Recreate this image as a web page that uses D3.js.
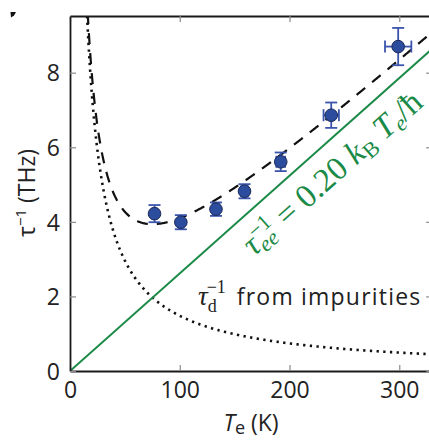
<!DOCTYPE html>
<html>
<head>
<meta charset="utf-8">
<script src="https://cdn.jsdelivr.net/npm/d3@7"></script>
<style>
  html, body { margin: 0; padding: 0; background: #fff; }
  svg { display: block; }
  text { font-family: "Open Sans", "DejaVu Sans", sans-serif; fill: #222; }
  .math { font-family: "Liberation Serif", "DejaVu Serif", serif; }
</style>
</head>
<body>
<svg id="chart" width="429" height="440"></svg>
<script>
// Measured scattering rates (THz) versus electron temperature (K)
const temps    = [77, 101, 133, 159, 192, 238, 299];
const rates    = [4.22, 3.99, 4.34, 4.82, 5.61, 6.86, 8.70];
const rateErr  = [0.23, 0.19, 0.18, 0.19, 0.25, 0.34, 0.50];
const tempErr  = [2, 2, 3, 3, 4, 7, 12];

// Model parameters
const eeCoeff = 0.20;            // tau_ee^-1 = 0.20 kB Te / hbar
const kBoverHbar = 0.130920;     // kB/hbar in THz per K
const impurityC = 148;           // tau_d^-1 = C / Te  (THz K)

const xTicks = [0, 100, 200, 300];
const yTicks = [0, 2, 4, 6, 8];
const xDomain = [0, 330];
const yDomain = [0, 9.52];

const svg = d3.select("#chart");
const x = d3.scaleLinear().domain(xDomain).range([70, 432.2]);
const y = d3.scaleLinear().domain(yDomain).range([371, 16]);

const green = "#1b8a47";
const ee = T => eeCoeff * kBoverHbar * T;
const imp = T => impurityC / T;
const total = T => ee(T) + imp(T);

svg.append("defs").append("clipPath").attr("id", "plotclip")
  .append("rect").attr("x", x(0)).attr("y", y(yDomain[1]))
  .attr("width", x(xDomain[1]) - x(0)).attr("height", y(0) - y(yDomain[1]));

const plot = svg.append("g").attr("clip-path", "url(#plotclip)");

// Axes: inward grey ticks on all four sides
const tickLen = 6;
const axB = svg.append("g").attr("transform", `translate(0,${y(0)})`)
  .call(d3.axisBottom(x).tickValues(xTicks).tickSizeInner(-tickLen).tickSizeOuter(0).tickPadding(10));
const axT = svg.append("g").attr("transform", `translate(0,${y(yDomain[1])})`)
  .call(d3.axisTop(x).tickValues(xTicks).tickSizeInner(-tickLen).tickSizeOuter(0).tickFormat(""));
const axL = svg.append("g").attr("transform", `translate(${x(0)},0)`)
  .call(d3.axisLeft(y).tickValues(yTicks).tickSizeInner(-tickLen).tickSizeOuter(0).tickPadding(10));
const axR = svg.append("g").attr("transform", `translate(${x(xDomain[1])},0)`)
  .call(d3.axisRight(y).tickValues(yTicks).tickSizeInner(-tickLen).tickSizeOuter(0).tickFormat(""));

[axB, axT, axL, axR].forEach(a => {
  a.select(".domain").attr("stroke", "#1a1a1a").attr("stroke-width", 1.8);
  a.selectAll(".tick line").attr("stroke", "#8a8a8a").attr("stroke-width", 1.2);
  a.selectAll(".tick text").style("font-size", "23px").attr("fill", "#222")
    .style("font-family", '"Open Sans", sans-serif');
});
axL.selectAll(".tick text").attr("dy", "0.36em");
axB.selectAll(".tick text").attr("dy", "0.72em");

// Curves
const Tfine = d3.range(8, 331, 0.5);
const line = d3.line().x(d => x(d[0])).y(d => y(d[1]));

plot.append("path")
  .attr("d", line(Tfine.map(T => [T, imp(T)])))
  .attr("fill", "none").attr("stroke", "#111").attr("stroke-width", 2.6)
  .attr("stroke-dasharray", "2.3,4.4");

plot.append("path")
  .attr("d", line([[0, ee(0)], [xDomain[1], ee(xDomain[1])]]))
  .attr("fill", "none").attr("stroke", green).attr("stroke-width", 2);

plot.append("path")
  .attr("d", line(Tfine.map(T => [T, total(T)])))
  .attr("fill", "none").attr("stroke", "#111").attr("stroke-width", 2.2)
  .attr("stroke-dasharray", "11,9");

// Data with error bars
const errColor = "#3a55ab";
const cap = 6;
const pts = svg.append("g");
temps.forEach((T, i) => {
  const cx = x(T), cy = y(rates[i]);
  const g = pts.append("g").attr("stroke", errColor).attr("stroke-width", 1.8);
  const yTop = y(rates[i] + rateErr[i]), yBot = y(rates[i] - rateErr[i]);
  g.append("line").attr("x1", cx).attr("x2", cx).attr("y1", yTop).attr("y2", yBot);
  g.append("line").attr("x1", cx - cap).attr("x2", cx + cap).attr("y1", yTop).attr("y2", yTop);
  g.append("line").attr("x1", cx - cap).attr("x2", cx + cap).attr("y1", yBot).attr("y2", yBot);
  const xL = x(T - tempErr[i]), xR = x(T + tempErr[i]);
  g.append("line").attr("x1", xL).attr("x2", xR).attr("y1", cy).attr("y2", cy);
  g.append("line").attr("x1", xL).attr("x2", xL).attr("y1", cy - cap).attr("y2", cy + cap);
  g.append("line").attr("x1", xR).attr("x2", xR).attr("y1", cy - cap).attr("y2", cy + cap);
  pts.append("circle").attr("cx", cx).attr("cy", cy).attr("r", 6.3)
    .attr("fill", "#2c4c9e").attr("stroke", "#1b2a58").attr("stroke-width", 1);
});

// Electron-electron label along the green line
const angle = Math.atan2(y(ee(xDomain[1])) - y(0), x(xDomain[1]) - x(0)) * 180 / Math.PI;
const anchorT = 223;
const big = 33, small = 22;
const eeLabel = svg.append("g")
  .attr("transform", `translate(${x(anchorT)},${y(ee(anchorT))}) rotate(${angle})`)
  .append("text").attr("class", "math").attr("x", 0).attr("y", 37)
  .attr("text-anchor", "middle").style("font-size", big + "px").style("fill", green);
eeLabel.append("tspan").style("font-style", "italic").text("τ");
eeLabel.append("tspan").style("font-style", "italic").style("font-size", small + "px").attr("dy", 5).text("ee");
eeLabel.append("tspan").style("font-size", small + "px").attr("dx", -19).attr("dy", -17).text("−1");
eeLabel.append("tspan").attr("dy", 12).text(" = 0.20 ");
eeLabel.append("tspan").style("font-style", "italic").text("k");
eeLabel.append("tspan").style("font-size", small + "px").attr("dy", 5).text("B");
eeLabel.append("tspan").style("font-style", "italic").attr("dy", -5).text(" T");
eeLabel.append("tspan").style("font-style", "italic").style("font-size", small + "px").attr("dy", 5).text("e");
eeLabel.append("tspan").attr("dy", -5).text("/ħ");

// Impurity label
const impLabel = svg.append("text").attr("x", 198).attr("y", 305).style("font-size", "23px")
  .style("letter-spacing", "1.2px");
impLabel.append("tspan").style("font-family", '"Liberation Serif", serif')
  .style("font-style", "italic").style("font-size", "27px").style("letter-spacing", "0px").text("τ");
impLabel.append("tspan").style("font-family", '"Liberation Serif", serif').style("font-size", "18px")
  .style("letter-spacing", "0px").attr("dy", 7).text("d");
impLabel.append("tspan").style("font-family", '"Liberation Serif", serif').style("font-size", "18px")
  .style("letter-spacing", "0px").attr("dx", -10).attr("dy", -19).text("−1");
impLabel.append("tspan").attr("dx", 11).attr("dy", 12).text("from impurities");

// Axis titles
const xt = svg.append("text").attr("x", 251).attr("y", 431).attr("text-anchor", "middle")
  .style("font-size", "23px");
xt.append("tspan").style("font-style", "italic").text("T");
xt.append("tspan").style("font-size", "18px").attr("dy", 3).text("e");
xt.append("tspan").attr("dy", -3).text(" (K)");

const yt = svg.append("text").attr("transform", "translate(35,193) rotate(-90)")
  .attr("text-anchor", "middle").style("font-size", "23px");
yt.append("tspan").text("τ");
yt.append("tspan").style("font-size", "15px").attr("dy", -9).text("−1");
yt.append("tspan").attr("dy", 9).text(" (THz)");

// Panel mark fragment in the corner
svg.append("path").attr("d", "M10.5,12 L16,12 L14,15.5 L11,17.5 Z").attr("fill", "#111");
</script>
</body>
</html>
